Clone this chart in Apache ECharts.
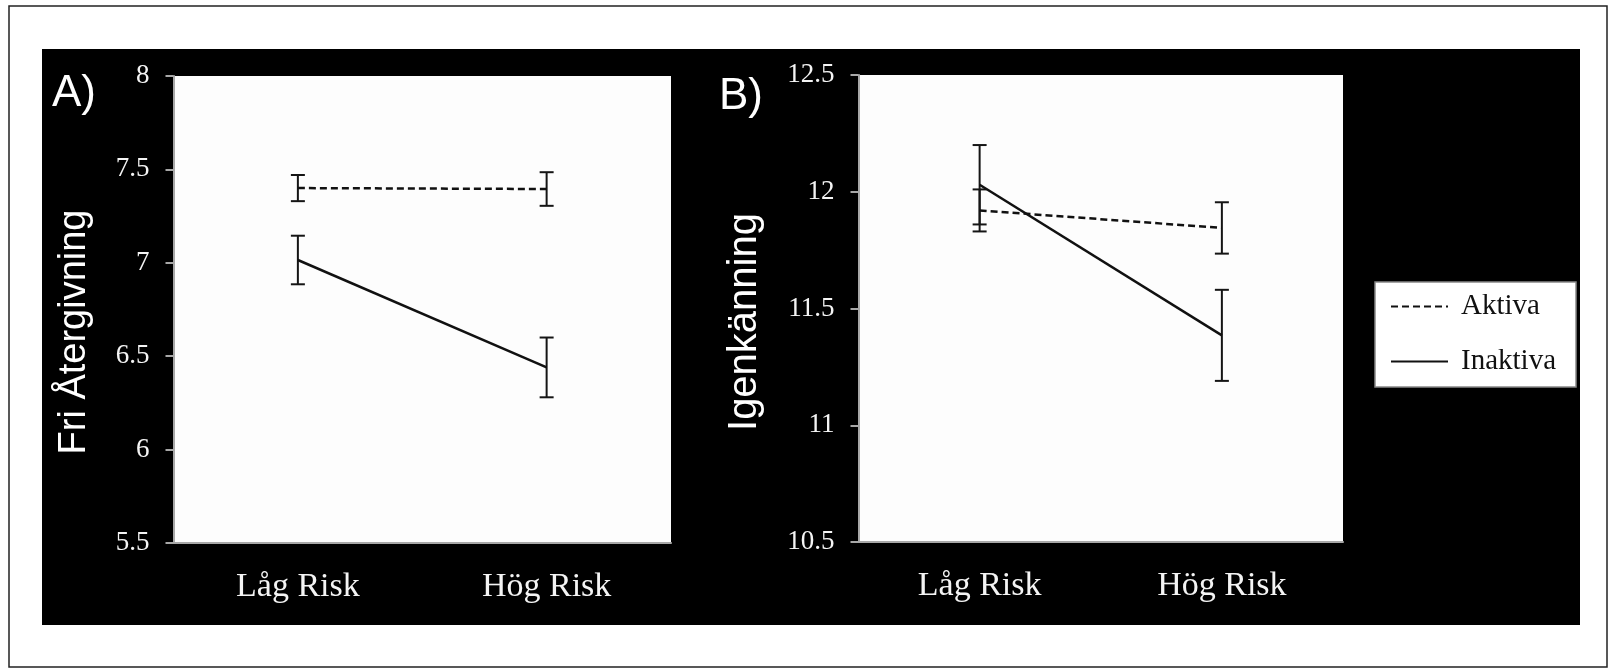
<!DOCTYPE html>
<html>
<head>
<meta charset="utf-8">
<script src="https://cdn.jsdelivr.net/npm/echarts@6/dist/echarts.min.js"></script>
<style>
  html, body { margin: 0; padding: 0; background: #fff; }
  #chart { width: 1610px; height: 670px; }
</style>
</head>
<body>
<div id="chart"></div>
<script>
var categories = ['Låg Risk', 'Hög Risk'];

// panel A: Fri Återgivning
var aktivaA = [7.40, 7.395];
var aktivaAErr = [0.07, 0.09];
var inaktivaA = [7.015, 6.44];
var inaktivaAErr = [0.13, 0.16];

// panel B: Igenkänning
var aktivaB = [11.92, 11.845];
var aktivaBErr = [0.09, 0.11];
var inaktivaB = [12.03, 11.385];
var inaktivaBErr = [0.17, 0.195];

var serif = '"Liberation Serif", "Times New Roman", serif';
var sans = '"Liberation Sans", Arial, sans-serif';

function errData(vals, errs) {
    return vals.map(function (v, i) { return [i, v - errs[i], v + errs[i]]; });
}

function errBar(params, api) {
    var x = api.value(0);
    var lo = api.coord([x, api.value(1)]);
    var hi = api.coord([x, api.value(2)]);
    var w = 7;
    var st = {stroke: '#151515', lineWidth: 2};
    return {
        type: 'group',
        children: [
            {type: 'line', shape: {x1: lo[0], y1: lo[1], x2: hi[0], y2: hi[1]}, style: st},
            {type: 'line', shape: {x1: lo[0] - w, y1: lo[1], x2: lo[0] + w, y2: lo[1]}, style: st},
            {type: 'line', shape: {x1: hi[0] - w, y1: hi[1], x2: hi[0] + w, y2: hi[1]}, style: st}
        ]
    };
}

function xAx(i) {
    return {
        type: 'category',
        gridIndex: i,
        data: categories,
        axisLine: {lineStyle: {color: '#a8a8a8', width: 2}},
        axisTick: {length: 10, lineStyle: {color: '#a8a8a8', width: 2}},
        axisLabel: {color: '#f4f4f4', fontFamily: serif, fontSize: 34, margin: 27}
    };
}

function yAx(i, min, max) {
    return {
        type: 'value',
        gridIndex: i,
        min: min,
        max: max,
        interval: 0.5,
        axisLine: {show: true, lineStyle: {color: '#a8a8a8', width: 2}},
        axisTick: {show: true, length: 8, lineStyle: {color: '#a8a8a8', width: 2}},
        splitLine: {show: false},
        axisLabel: {color: '#f4f4f4', fontFamily: serif, fontSize: 27, margin: 24}
    };
}

function lineSeries(name, data, idx, dashed) {
    return {
        name: name,
        type: 'line',
        xAxisIndex: idx,
        yAxisIndex: idx,
        data: data,
        symbol: 'none',
        z: 3,
        lineStyle: {color: '#111', width: 2.5, type: dashed ? [7, 4] : 'solid'},
        itemStyle: {color: '#111'}
    };
}

function errSeries(data, idx) {
    return {
        type: 'custom',
        xAxisIndex: idx,
        yAxisIndex: idx,
        data: data,
        renderItem: errBar,
        z: 2,
        silent: true
    };
}

var chart = echarts.init(document.getElementById('chart'));
var option = {
    animation: false,
    backgroundColor: '#ffffff',
    graphic: [
        {type: 'rect', shape: {x: 9, y: 6, width: 1598, height: 661}, style: {fill: '#fff', stroke: '#222', lineWidth: 1.5}, z: -10},
        {type: 'rect', shape: {x: 42, y: 49, width: 1538, height: 576}, style: {fill: '#000'}, z: -9},
        {type: 'text', x: 52, y: 94, style: {text: 'A)', fill: '#fff', font: '44px ' + sans, textVerticalAlign: 'middle'}, z: 5},
        {type: 'text', x: 719, y: 97, style: {text: 'B)', fill: '#fff', font: '44px ' + sans, textVerticalAlign: 'middle'}, z: 5},
        {type: 'text', x: 75, y: 332, rotation: Math.PI / 2,
            style: {text: 'Fri Återgivning', fill: '#fff', font: '38px ' + sans, textAlign: 'center', textVerticalAlign: 'middle'}, z: 5},
        {type: 'text', x: 745, y: 322, rotation: Math.PI / 2,
            style: {text: 'Igenkänning', fill: '#fff', font: '40px ' + sans, textAlign: 'center', textVerticalAlign: 'middle'}, z: 5}
    ],
    grid: [
        {left: 173.5, top: 76, width: 497.5, height: 467, show: true, backgroundColor: '#fdfdfd', borderWidth: 0},
        {left: 858.5, top: 75, width: 484.5, height: 467, show: true, backgroundColor: '#fdfdfd', borderWidth: 0}
    ],
    legend: {
        data: ['Aktiva', 'Inaktiva'],
        orient: 'vertical',
        left: 1375,
        top: 282,
        padding: [10, 20, 11, 15],
        itemGap: 26,
        itemWidth: 57,
        itemHeight: 14,
        backgroundColor: '#fff',
        borderColor: '#888',
        borderWidth: 1.5,
        itemStyle: {color: 'transparent', borderColor: 'transparent', borderWidth: 0},
        lineStyle: {color: '#111'},
        textStyle: {color: '#111', fontFamily: serif, fontSize: 29, padding: [0, 0, 0, 8]}
    },
    xAxis: [xAx(0), xAx(1)],
    yAxis: [yAx(0, 5.5, 8), yAx(1, 10.5, 12.5)],
    series: [
        errSeries(errData(aktivaA, aktivaAErr), 0),
        errSeries(errData(inaktivaA, inaktivaAErr), 0),
        lineSeries('Aktiva', aktivaA, 0, true),
        lineSeries('Inaktiva', inaktivaA, 0, false),
        errSeries(errData(aktivaB, aktivaBErr), 1),
        errSeries(errData(inaktivaB, inaktivaBErr), 1),
        lineSeries('Aktiva', aktivaB, 1, true),
        lineSeries('Inaktiva', inaktivaB, 1, false)
    ]
};
chart.setOption(option);
</script>
</body>
</html>
